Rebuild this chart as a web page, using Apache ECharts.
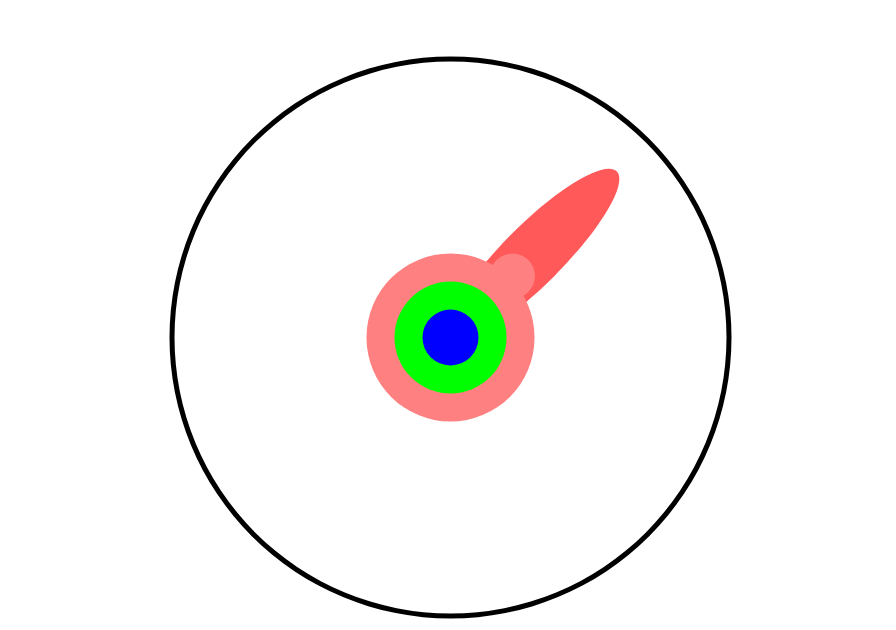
<!DOCTYPE html>
<html>
<head>
<meta charset="utf-8">
<script src="https://cdn.jsdelivr.net/npm/echarts@6/dist/echarts.min.js"></script>
<style>html,body{margin:0;padding:0;background:#fff;}#main{width:896px;height:630px;}</style>
</head>
<body>
<div id="main"></div>
<script>
// Data
var gaugeMin = [0];
var gaugeMax = [100];
var pointerValues = [12.5];
var anchorSizes = [168, 45, 112, 56];
var anchorColors = ['#ff8080', '#ff8080', '#00ff00', '#0000ff'];

var chart = echarts.init(document.getElementById('main'));
var CENTER = [450.5, 337.5];
var RADIUS = 281;
var ELLIPSE = 'path://M0,-1C0.5523,-1,1,-0.5523,1,0C1,0.5523,0.5523,1,0,1C-0.5523,1,-1,0.5523,-1,0C-1,-0.5523,-0.5523,-1,0,-1Z';

function baseGauge() {
  return {
    type: 'gauge',
    center: CENTER,
    radius: RADIUS,
    startAngle: 90,
    endAngle: -270,
    min: gaugeMin[0],
    max: gaugeMax[0],
    splitLine: { show: false },
    axisTick: { show: false },
    axisLabel: { show: false },
    title: { show: false },
    detail: { show: false },
    silent: true
  };
}

var series = [];
var main = baseGauge();
main.axisLine = { show: true, lineStyle: { width: 5, color: [[1, '#000000']] } };
main.pointer = { show: true, icon: ELLIPSE, length: 235, width: 60, keepAspect: false, itemStyle: { color: '#ff5959' } };
main.anchor = { show: false };
main.progress = { show: false };
main.data = [{ value: pointerValues[0] }];
series.push(main);

var offsets = [[0, 0], [62, -61.5], [0, 0], [0, 0]];
for (var i = 0; i < anchorSizes.length; i++) {
  var s = baseGauge();
  s.axisLine = { show: false };
  s.pointer = { show: false };
  s.progress = { show: false };
  s.anchor = {
    show: true,
    showAbove: true,
    icon: 'circle',
    size: anchorSizes[i],
    offsetCenter: offsets[i],
    itemStyle: { color: anchorColors[i], borderWidth: 0 }
  };
  s.data = [{ value: pointerValues[0] }];
  series.push(s);
}

chart.setOption({
  animation: false,
  backgroundColor: '#ffffff',
  series: series
});
</script>
</body>
</html>
